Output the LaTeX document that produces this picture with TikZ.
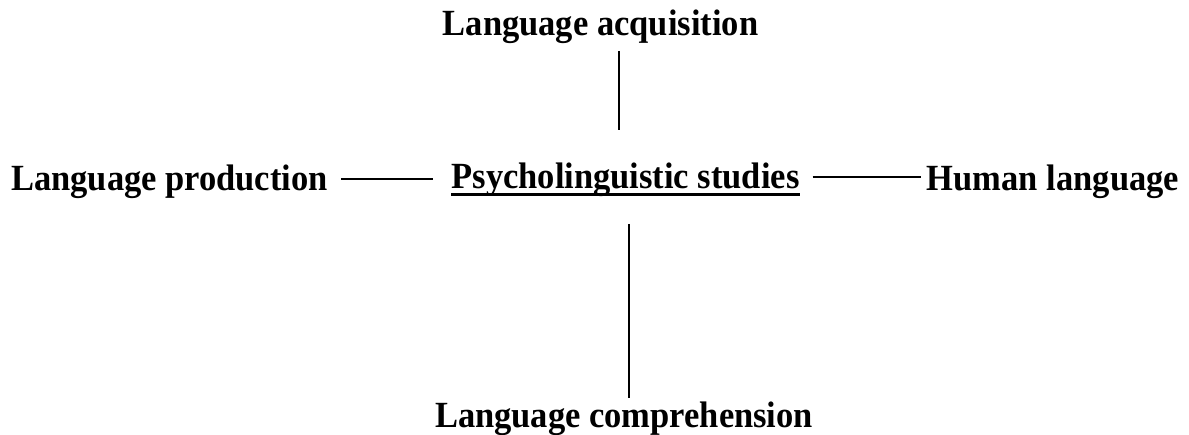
\documentclass[tikz,border=0pt]{standalone}
\usepackage{fontspec}
\setmainfont{Liberation Serif}
\usetikzlibrary{calc}
\newcommand{\tallt}[1]{\scalebox{1}[1.07]{#1}}
\tikzset{
  lbl/.style={inner sep=0pt, anchor=base, font=\fontsize{34.5}{40}\selectfont\bfseries},
  conn/.style={line width=1.2pt, black},
}
\begin{document}
\begin{tikzpicture}[x=1pt,y=-1pt]
\useasboundingbox (0,0) rectangle (1189,435);
\node[lbl] (acq)   at (600.5,36)  {\tallt{Language acquisition}};
\node[lbl] (prod)  at (169.5,191) {\tallt{Language production}};
\node[lbl] (psy)   at (625.5,189) {\tallt{Psycholinguistic studies}};
\node[lbl] (human) at (1053,191)  {\tallt{Human language}};
\node[lbl] (comp)  at (624,428)   {\tallt{Language comprehension}};
% underline of the central label
\draw[line width=3pt] ([yshift=-6pt]psy.base west) -- ([yshift=-6pt]psy.base east);
% connectors
\draw[conn] ($(acq.base)+(18.5,15)$) -- ($(psy.base)+(-6.5,-59)$);
\draw[conn] ($(prod.base east)+(13,-12)$) -- ($(psy.base west)+(-18,-10)$);
\draw[conn] ($(psy.base east)+(13,-12)$) -- ($(human.base west)+(-6,-14)$);
\draw[conn] ($(psy.base)+(3.5,35)$) -- ($(comp.base)+(5,-30)$);
\end{tikzpicture}
\end{document}
